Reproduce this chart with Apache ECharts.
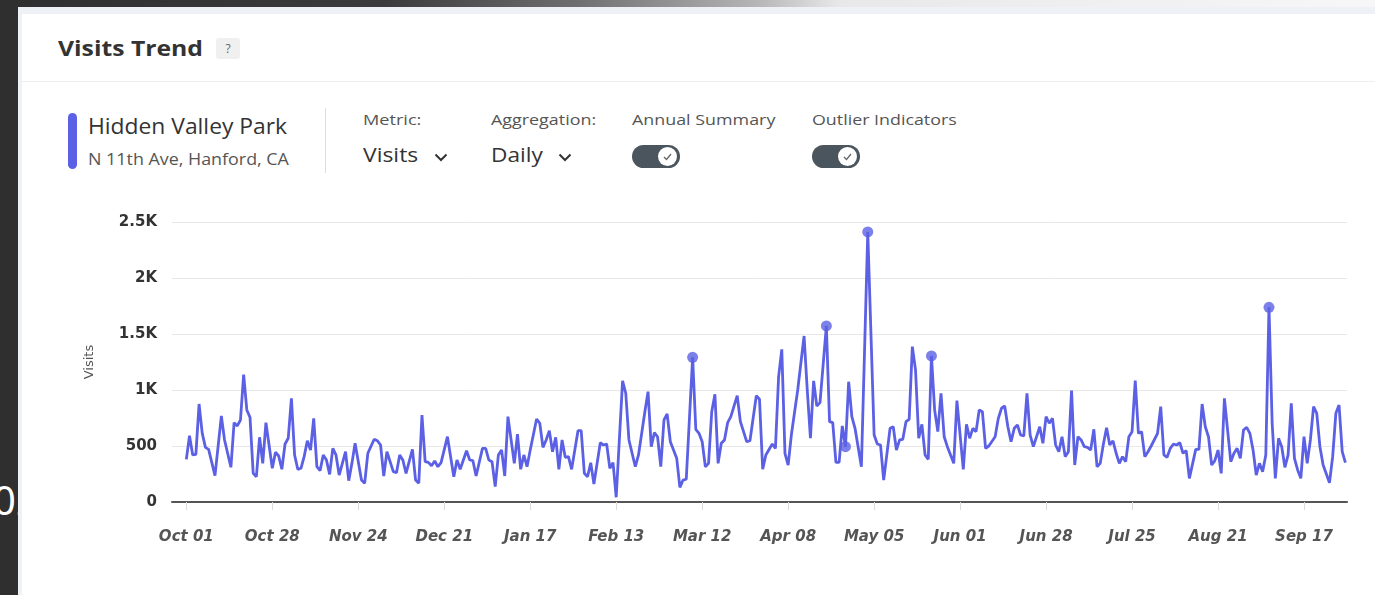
<!DOCTYPE html>
<html>
<head>
<meta charset="utf-8">
<title>Visits Trend</title>
<script src="https://cdn.jsdelivr.net/npm/echarts@6/dist/echarts.min.js"></script>
<style>
  body {
    margin: 0;
    width: 1375px;
    height: 595px;
    overflow: hidden;
    position: relative;
    background: #eef1f5;
    font-family: "Open Sans", "Noto Sans", sans-serif;
  }
  .topbar {
    position: absolute; left: 0; top: 0; width: 1375px; height: 7px;
    background: linear-gradient(to right, #2f2f2f 0%, #3b3b3b 28%, #6f6f6f 42%, #b5b5b5 55%, #e8e8e8 61%, #f7f7f7 100%);
  }
  .leftbar {
    position: absolute; left: 0; top: 0; width: 18px; height: 595px;
    background: #2f2f2f; overflow: hidden;
  }
  .leftbar span {
    position: absolute; left: -7px; top: 472px;
    color: #fff; font-size: 40px; font-family: "Noto Sans", sans-serif;
  }
  .card {
    position: absolute; left: 22px; top: 14px; right: 0; bottom: 0;
    background: #fff;
  }
  .fit { position: absolute; white-space: nowrap; transform-origin: 0 50%; }
  .title { left: 58px; top: 32px; font-size: 22px; font-weight: 700; color: #333; }
  .help {
    position: absolute; left: 216px; top: 38px; width: 24px; height: 21px;
    background: #f0f0f0; border-radius: 3px;
    font-size: 12px; color: #666; text-align: center; line-height: 21px;
  }
  .sep {
    position: absolute; left: 22px; right: 0; top: 81px; height: 1px; background: #eeeeee;
  }
  .marker {
    position: absolute; left: 68px; top: 113px; width: 9px; height: 56px;
    border-radius: 5px; background: #5b60e4;
  }
  .place { left: 88px; top: 112px; font-size: 21px; color: #333; }
  .addr { left: 88px; top: 148px; font-size: 16px; color: #555; }
  .divider { position: absolute; left: 325px; top: 108px; width: 1px; height: 65px; background: #dddddd; }
  .lbl { top: 109px; font-size: 15px; color: #555; }
  .sel { top: 141px; font-size: 20px; color: #333; }
  .chev { position: absolute; top: 153px; }
  .toggle {
    position: absolute; top: 145px; width: 48px; height: 23px; border-radius: 12px;
    background: #4b555d;
  }
  .toggle .knob {
    position: absolute; right: 3px; top: 2px; width: 19px; height: 19px; border-radius: 50%;
    background: #fff;
  }
  #chart { position: absolute; left: 0; top: 0; width: 1375px; height: 595px; }
</style>
</head>
<body>
<div class="topbar"></div>
<div class="leftbar"><span>02</span></div>
<div class="card"></div>
<div class="fit title" data-w="145">Visits Trend</div>
<div class="help">?</div>
<div class="sep"></div>
<div class="marker"></div>
<div class="fit place" data-w="199">Hidden Valley Park</div>
<div class="fit addr" data-w="201">N 11th Ave, Hanford, CA</div>
<div class="divider"></div>
<div class="fit lbl" style="left:363px" data-w="58">Metric:</div>
<div class="fit sel" style="left:363px" data-w="55">Visits</div>
<svg class="chev" style="left:434px" width="14" height="9"><polyline points="1.5,1.5 7,7 12.5,1.5" fill="none" stroke="#333" stroke-width="2"/></svg>
<div class="fit lbl" style="left:491px" data-w="105">Aggregation:</div>
<div class="fit sel" style="left:491px" data-w="52">Daily</div>
<svg class="chev" style="left:558px" width="14" height="9"><polyline points="1.5,1.5 7,7 12.5,1.5" fill="none" stroke="#333" stroke-width="2"/></svg>
<div class="fit lbl" style="left:632px" data-w="143">Annual Summary</div>
<div class="toggle" style="left:632px"><div class="knob"><svg width="19" height="19"><polyline points="6,10 8.5,12.5 13,7" fill="none" stroke="#666" stroke-width="1.3"/></svg></div></div>
<div class="fit lbl" style="left:812px" data-w="145">Outlier Indicators</div>
<div class="toggle" style="left:812px"><div class="knob"><svg width="19" height="19"><polyline points="6,10 8.5,12.5 13,7" fill="none" stroke="#666" stroke-width="1.3"/></svg></div></div>
<div id="chart"></div>

<script>
  // day offset from Oct 01
  const days = [
    0, 1, 2, 3, 4, 5, 6, 7, 9, 11,
    12, 14, 15, 16, 17, 18, 19, 20, 21, 22,
    23, 24, 25, 27, 28, 29, 30, 31, 32, 33,
    34, 35, 36, 37, 38, 39, 40, 41, 42, 43,
    44, 45, 46, 47, 48, 50, 51, 52, 53, 55,
    56, 57, 59, 60, 61, 62, 63, 65, 66, 67,
    68, 69, 71, 72, 73, 74, 75, 76, 77, 78,
    79, 80, 82, 84, 85, 86, 88, 89, 90, 91,
    93, 94, 95, 96, 97, 98, 99, 100, 101, 103,
    104, 105, 106, 107, 108, 110, 111, 112, 113, 114,
    115, 116, 117, 118, 119, 120, 121, 123, 124, 125,
    126, 127, 128, 130, 131, 132, 133, 134, 135, 137,
    138, 139, 141, 142, 144, 145, 146, 147, 148, 149,
    150, 151, 152, 153, 154, 155, 156, 157, 159, 160,
    161, 162, 163, 164, 165, 166, 167, 168, 169, 170,
    171, 173, 174, 176, 177, 179, 180, 181, 182, 184,
    185, 186, 187, 188, 189, 190, 192, 194, 195, 196,
    197, 198, 199, 201, 202, 203, 204, 205, 206, 207,
    208, 209, 210, 212, 214, 216, 217, 218, 219, 221,
    222, 223, 224, 225, 226, 227, 228, 229, 230, 231,
    232, 233, 234, 235, 236, 237, 238, 239, 241, 242,
    244, 245, 246, 247, 248, 249, 250, 251, 252, 254,
    255, 256, 257, 258, 259, 260, 261, 262, 263, 264,
    265, 266, 267, 268, 269, 270, 271, 272, 273, 274,
    275, 276, 277, 278, 279, 280, 281, 282, 283, 284,
    285, 286, 287, 288, 289, 290, 291, 292, 293, 294,
    295, 296, 297, 298, 299, 300, 301, 302, 303, 305,
    306, 307, 308, 309, 310, 311, 312, 313, 314, 315,
    317, 318, 319, 320, 321, 322, 323, 324, 325, 326,
    328, 329, 330, 331, 332, 333, 334, 335, 336, 337,
    338, 339, 340, 341, 342, 343, 344, 345, 346, 347,
    348, 349, 350, 351, 352, 353, 354, 355, 356, 357,
    359, 360, 361, 362, 363, 364
  ];
  const visits = [
    381, 592, 420, 426, 875, 613, 488, 470, 235, 768,
    554, 310, 708, 679, 732, 1137, 822, 756, 256, 226,
    578, 345, 708, 301, 444, 411, 292, 518, 569, 926,
    420, 292, 301, 405, 547, 464, 747, 315, 280, 420,
    375, 247, 479, 420, 241, 449, 190, 345, 524, 196,
    167, 435, 560, 547, 509, 232, 449, 271, 262, 420,
    375, 256, 470, 196, 167, 777, 360, 354, 324, 366,
    315, 351, 583, 226, 375, 292, 458, 375, 369, 232,
    479, 479, 375, 360, 137, 420, 464, 232, 762, 345,
    605, 292, 420, 315, 464, 741, 703, 488, 554, 637,
    449, 578, 292, 554, 399, 405, 292, 637, 637, 256,
    226, 351, 161, 529, 509, 518, 301, 351, 42, 1081,
    971, 554, 315, 420, 806, 985, 494, 620, 580, 315,
    732, 786, 538, 464, 390, 131, 196, 203, 1292, 649,
    613, 538, 315, 345, 806, 962, 345, 524, 554, 708,
    762, 949, 717, 538, 547, 949, 917, 292, 420, 518,
    479, 1119, 1363, 435, 330, 598, 1000, 1482, 1000, 569,
    1081, 857, 887, 1572, 717, 708, 354, 354, 679, 494,
    1074, 762, 658, 315, 2411, 598, 518, 509, 196, 658,
    672, 464, 554, 560, 717, 738, 1387, 1179, 569, 694,
    420, 381, 1304, 822, 628, 971, 583, 494, 345, 905,
    292, 694, 569, 658, 628, 822, 806, 479, 500, 583,
    747, 837, 857, 672, 538, 658, 688, 598, 589, 971,
    598, 494, 583, 672, 524, 762, 703, 747, 509, 449,
    583, 405, 449, 994, 330, 583, 554, 494, 488, 464,
    649, 315, 345, 518, 663, 509, 547, 435, 345, 405,
    360, 583, 628, 1083, 613, 628, 405, 449, 500, 613,
    851, 420, 399, 479, 518, 509, 529, 435, 458, 211,
    470, 470, 875, 672, 583, 330, 369, 464, 256, 926,
    360, 435, 479, 390, 643, 667, 613, 464, 241, 345,
    271, 420, 1738, 703, 211, 569, 494, 310, 420, 881,
    390, 286, 211, 583, 345, 554, 851, 792, 494, 330,
    172, 405, 792, 866, 449, 351
  ];
  // days flagged with an outlier dot
  const outlierDays = [159, 201, 207, 214, 234, 340];
  // x tick labels, one every 27 days
  const tickLabels = ['Oct 01', 'Oct 28', 'Nov 24', 'Dec 21', 'Jan 17', 'Feb 13', 'Mar 12',
    'Apr 08', 'May 05', 'Jun 01', 'Jun 28', 'Jul 25', 'Aug 21', 'Sep 17'];
  const tickStep = 27;

  // the header text in the screenshot is a bit wider than the font, stretch it to fit
  document.querySelectorAll('.fit').forEach(el => {
    const w = +el.dataset.w;
    el.style.transform = 'scaleX(' + (w / el.offsetWidth) + ')';
  });

  const lineColor = '#5b60e4';
  const lineData = days.map((d, i) => [d, visits[i]]);
  const outlierData = lineData.filter(p => outlierDays.indexOf(p[0]) !== -1);
  const tickDays = tickLabels.map((_, i) => i * tickStep);

  const myChart = echarts.init(document.getElementById('chart'));
  myChart.setOption({
    animation: false,
    grid: { left: 172, right: 28, top: 222, bottom: 93 },
    xAxis: {
      type: 'value',
      min: -4.5,
      max: 364.5,
      axisLine: { lineStyle: { color: '#555', width: 2 } },
      axisTick: { show: true, customValues: tickDays, length: 8, lineStyle: { color: '#dcdcdc' } },
      axisLabel: {
        customValues: tickDays,
        margin: 28,
        color: '#555',
        fontFamily: 'DejaVu Sans',
        fontSize: 15,
        fontWeight: 'bold',
        fontStyle: 'italic',
        formatter: v => tickLabels[Math.round(v / tickStep)]
      },
      splitLine: { show: false }
    },
    yAxis: {
      type: 'value',
      min: 0,
      max: 2500,
      interval: 500,
      name: 'Visits',
      nameLocation: 'middle',
      nameGap: 76,
      nameTextStyle: { color: '#555', fontSize: 13, fontFamily: 'DejaVu Sans' },
      axisLine: { show: false },
      axisTick: { show: false },
      axisLabel: {
        margin: 15,
        color: '#333',
        fontFamily: 'DejaVu Sans',
        fontSize: 15,
        fontWeight: 'bold',
        formatter: v => v >= 1000 ? (v / 1000) + 'K' : String(v)
      },
      splitLine: { lineStyle: { color: '#e8e8e8' } }
    },
    series: [{
      name: 'Visits',
      type: 'line',
      data: lineData,
      symbol: 'none',
      lineStyle: { color: lineColor, width: 2.8 },
      itemStyle: { color: lineColor }
    }, {
      name: 'Outliers',
      type: 'scatter',
      data: outlierData,
      symbolSize: 11,
      itemStyle: { color: lineColor }
    }]
  });
</script>
</body>
</html>
